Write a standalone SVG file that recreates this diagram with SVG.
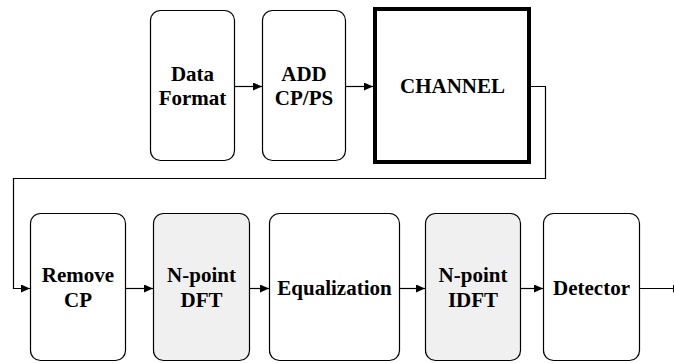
<svg xmlns="http://www.w3.org/2000/svg" width="674" height="363" viewBox="0 0 674 363">
  <defs>
    <marker id="arrow" markerWidth="10" markerHeight="8" refX="9" refY="4" orient="auto" markerUnits="userSpaceOnUse">
      <path d="M0,0 L9,4 L0,8 Z" fill="#000000"/>
    </marker>
  </defs>
  <rect width="674" height="363" fill="#ffffff"/>

  <!-- transmitter chain -->
  <g id="data-format">
    <rect x="150.5" y="10.5" width="84" height="150" rx="10" fill="#ffffff" stroke="#000000" stroke-width="1.2"/>
    <text x="192.5" y="81" style="font-family:'Liberation Serif';font-weight:bold;font-size:21px;text-anchor:middle">Data</text>
    <text x="192.5" y="105" style="font-family:'Liberation Serif';font-weight:bold;font-size:21px;text-anchor:middle">Format</text>
  </g>
  <g id="add-cp">
    <rect x="262.5" y="10.5" width="83" height="150" rx="10" fill="#ffffff" stroke="#000000" stroke-width="1.2"/>
    <text x="304" y="81" style="font-family:'Liberation Serif';font-weight:bold;font-size:21px;text-anchor:middle">ADD</text>
    <text x="304" y="105" style="font-family:'Liberation Serif';font-weight:bold;font-size:21px;text-anchor:middle">CP/PS</text>
  </g>
  <g id="channel">
    <rect x="375" y="9" width="154" height="153" fill="#ffffff" stroke="#000000" stroke-width="4"/>
    <text x="452.5" y="92.5" style="font-family:'Liberation Serif';font-weight:bold;font-size:21px;text-anchor:middle">CHANNEL</text>
  </g>

  <!-- receiver chain -->
  <g id="remove-cp">
    <rect x="30.5" y="213.5" width="95" height="147" rx="10" fill="#ffffff" stroke="#000000" stroke-width="1.2"/>
    <text x="78" y="282" style="font-family:'Liberation Serif';font-weight:bold;font-size:21px;text-anchor:middle">Remove</text>
    <text x="78" y="306.5" style="font-family:'Liberation Serif';font-weight:bold;font-size:21px;text-anchor:middle">CP</text>
  </g>
  <g id="dft">
    <rect x="153.5" y="213.5" width="96" height="147" rx="10" fill="#f0f0f0" stroke="#000000" stroke-width="1.2"/>
    <text x="201.5" y="282" style="font-family:'Liberation Serif';font-weight:bold;font-size:21px;text-anchor:middle">N-point</text>
    <text x="201.5" y="306.5" style="font-family:'Liberation Serif';font-weight:bold;font-size:21px;text-anchor:middle">DFT</text>
  </g>
  <g id="equalization">
    <rect x="269.5" y="213.5" width="130" height="147" rx="10" fill="#ffffff" stroke="#000000" stroke-width="1.2"/>
    <text x="334.5" y="294.5" style="font-family:'Liberation Serif';font-weight:bold;font-size:21px;text-anchor:middle">Equalization</text>
  </g>
  <g id="idft">
    <rect x="425.5" y="213.5" width="95" height="147" rx="10" fill="#f0f0f0" stroke="#000000" stroke-width="1.2"/>
    <text x="473" y="282" style="font-family:'Liberation Serif';font-weight:bold;font-size:21px;text-anchor:middle">N-point</text>
    <text x="473" y="306.5" style="font-family:'Liberation Serif';font-weight:bold;font-size:21px;text-anchor:middle">IDFT</text>
  </g>
  <g id="detector">
    <rect x="543.5" y="213.5" width="96" height="147" rx="10" fill="#ffffff" stroke="#000000" stroke-width="1.2"/>
    <text x="591.5" y="294.5" style="font-family:'Liberation Serif';font-weight:bold;font-size:21px;text-anchor:middle">Detector</text>
  </g>

  <!-- connectors -->
  <g id="connectors" fill="none" stroke="#000000" stroke-width="1.2">
    <path d="M234.5,86.5 H262" marker-end="url(#arrow)"/>
    <path d="M345.5,86.5 H373" marker-end="url(#arrow)"/>
    <path d="M531,86.5 H545.5 V178.5 H13.5 V288.5 H30" marker-end="url(#arrow)"/>
    <path d="M125.5,288.5 H153" marker-end="url(#arrow)"/>
    <path d="M249.5,288.5 H269" marker-end="url(#arrow)"/>
    <path d="M399.5,288.5 H425" marker-end="url(#arrow)"/>
    <path d="M520.5,288.5 H543" marker-end="url(#arrow)"/>
    <path d="M639.5,288.5 H682" marker-end="url(#arrow)"/>
  </g>
</svg>
